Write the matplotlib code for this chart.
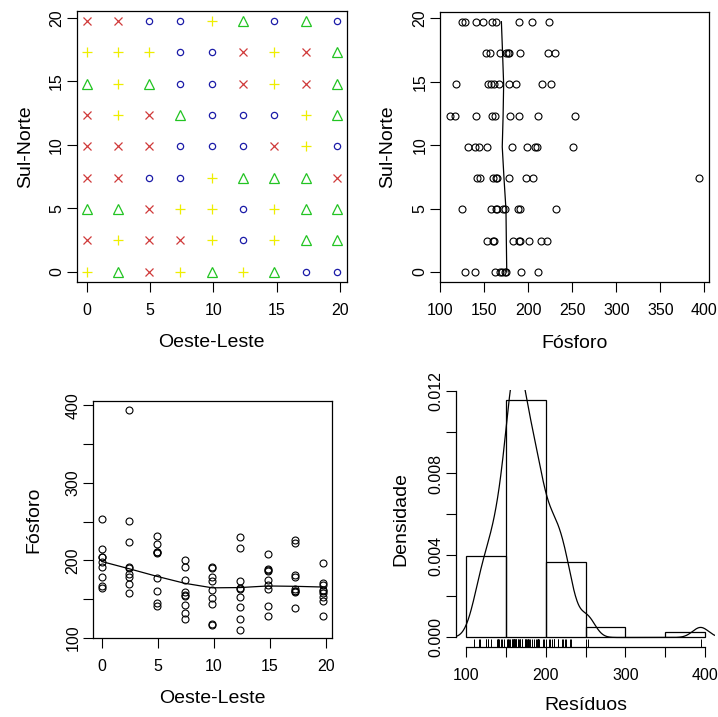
import matplotlib

matplotlib.use("Agg")
import numpy as np
from matplotlib import pyplot as plt

plt.rcParams["font.family"] = ["Liberation Sans", "DejaVu Sans"]

# coordenadas da grade (m), iguais nos dois sentidos
coords = [0.0, 2.47, 4.93, 7.4, 9.87, 12.34, 14.8, 17.27, 19.74]

# fosforo por linha, de sul (y=0) para norte; cada linha de oeste para leste
fosforo_linhas = [
    [192, 170, 211, 175, 162, 174, 168, 139, 128],
    [215, 183, 221, 201, 191, 153, 189, 161, 160],
    [165, 158, 232, 191, 174, 125, 188, 163, 171],
    [205, 394, 145, 142, 178, 165, 163, 160, 197],
    [198, 251, 210, 132, 144, 140, 208, 181, 153],
    [253, 190, 211, 159, 117, 111, 141, 179, 162],
    [167, 178, 161, 154, 118, 216, 186, 226, 158],
    [178, 191, 177, 156, 152, 230, 175, 222, 168],
    [204, 224, 141, 125, 190, 163, 128, 159, 148],
]

hist_breaks = [100, 150, 200, 250, 300, 350, 400]

qt_cols = ["#1c1ca8", "#22c422", "#eeee00", "#d03a3a"]
qt_marks = ["o", "^", "+", "x"]
qt_sizes = [4.5, 6.5, 7.5, 6.0]

TICK = 11.5
LAB = 14

xx, yy = np.meshgrid(coords, coords)
east = xx.ravel()
north = yy.ravel()
vals = np.array(fosforo_linhas, dtype=float).ravel()
n = len(vals)


def lowess(x, y, f=2 / 3, iters=3):
    # versao do clowess do R
    order = np.argsort(x, kind="stable")
    x = np.asarray(x, float)[order]
    y = np.asarray(y, float)[order]
    m = len(x)
    ns = max(2, min(m, int(f * m + 1e-7)))
    rw = np.ones(m)
    ys = np.zeros(m)
    rng = x[-1] - x[0]
    for it in range(iters + 1):
        for xs in np.unique(x):
            d = np.abs(x - xs)
            h = np.sort(d)[ns - 1]
            w = np.zeros(m)
            ins = d <= 0.999 * h
            w[ins] = np.where(d[ins] <= 0.001 * h, 1.0, (1 - (d[ins] / h) ** 3) ** 3)
            w *= rw
            if w.sum() <= 0:
                ys[x == xs] = y[x == xs]
                continue
            w /= w.sum()
            if h > 0:
                a = np.sum(w * x)
                c = np.sum(w * (x - a) ** 2)
                if np.sqrt(c) > 0.001 * rng:
                    b = (xs - a) / c
                    w = w * (b * (x - a) + 1)
            ys[x == xs] = np.sum(w * y)
        if it == iters:
            break
        res = np.abs(y - ys)
        cmad = 6 * np.median(res)
        rw = np.where(res <= 0.001 * cmad, 1.0,
                      np.where(res <= 0.999 * cmad, (1 - (res / cmad) ** 2) ** 2, 0.0))
    return x, ys


def rlim(v):
    lo, hi = np.min(v), np.max(v)
    e = 0.04 * (hi - lo)
    return lo - e, hi + e


def yrot(ax, ticks, labels):
    ax.set_yticks(ticks, labels, rotation=90, va="center")


W, H = 718, 717
fig = plt.figure(figsize=(7.18, 7.17), dpi=100)


def box(l, t, r, b):
    return [l / W, 1 - b / H, (r - l) / W, (b - t) / H]


ax1 = fig.add_axes(box(76.5, 11, 347, 281.7))
ax2 = fig.add_axes(box(440, 11.7, 709, 282))
ax3 = fig.add_axes(box(93, 401, 331.7, 638.3))
ax4 = fig.add_axes(box(456, 390, 715, 647))

for ax in (ax1, ax2, ax3, ax4):
    ax.tick_params(direction="out", length=7, width=0.8, labelsize=TICK, colors="black")
    ax.tick_params(axis="x", pad=8)
    ax.tick_params(axis="y", pad=2)
    for s in ax.spines.values():
        s.set_linewidth(0.9)

# quartis (como cut do R, fechado a direita)
q = np.percentile(vals, [25, 50, 75])
grupo = np.searchsorted(q, vals, side="left")

# 1: pontos por quartil
for g in range(4):
    sel = grupo == g
    ax1.plot(east[sel], north[sel], ls="none", marker=qt_marks[g], ms=qt_sizes[g],
             mfc="none", mec=qt_cols[g], mew=0.9)
ax1.set_xlim(rlim(east))
ax1.set_ylim(rlim(north))
ax1.set_xticks([0, 5, 10, 15, 20])
yrot(ax1, [0, 5, 10, 15, 20], ["0", "5", "10", "15", "20"])
ax1.set_xlabel("Oeste-Leste", fontsize=LAB, labelpad=12)
ax1.set_ylabel("Sul-Norte", fontsize=LAB, labelpad=11)

# 2: fosforo x Sul-Norte
ax2.plot(vals, north, ls="none", marker="o", ms=5, mfc="none", mec="black", mew=0.8)
lx, ly = lowess(north, vals)
ax2.plot(ly, lx, color="black", lw=0.9)
ax2.set_xlim(rlim(vals))
ax2.set_ylim(rlim(north))
ax2.set_xticks([100, 150, 200, 250, 300, 350, 400])
yrot(ax2, [0, 5, 10, 15, 20], ["0", "5", "10", "15", "20"])
ax2.set_xlabel("Fósforo", fontsize=LAB, labelpad=12)
ax2.set_ylabel("Sul-Norte", fontsize=LAB, labelpad=11.5)

# 3: Oeste-Leste x fosforo
ax3.plot(east, vals, ls="none", marker="o", ms=5, mfc="none", mec="black", mew=0.8)
lx, ly = lowess(east, vals)
ax3.plot(lx, ly, color="black", lw=0.9)
ax3.set_xlim(rlim(east))
ax3.set_ylim(rlim(vals))
ax3.set_xticks([0, 5, 10, 15, 20])
yrot(ax3, [100, 150, 200, 250, 300, 350, 400], ["100", "", "200", "", "300", "", "400"])
ax3.set_xlabel("Oeste-Leste", fontsize=LAB, labelpad=11.5)
ax3.set_ylabel("Fósforo", fontsize=LAB, labelpad=17)

# 4: histograma + densidade + rug
counts, _, _ = ax4.hist(vals, bins=hist_breaks, density=True, fill=False,
                        edgecolor="black", linewidth=0.9)
sd = np.std(vals, ddof=1)
iqr = np.subtract(*np.percentile(vals, [75, 25]))
bw = 0.9 * min(sd, iqr / 1.34) * n ** -0.2
gx = np.linspace(vals.min() - 3 * bw, vals.max() + 3 * bw, 512)
dens = np.exp(-0.5 * ((gx[:, None] - vals[None, :]) / bw) ** 2).sum(1) / (n * bw * np.sqrt(2 * np.pi))
ax4.plot(gx, dens, color="black", lw=0.9)
ax4.set_xlim(88, 412)
ymax = counts.max()
ax4.set_ylim(-0.04 * ymax, 1.04 * ymax)
ax4.vlines(vals, 0, 0.03, transform=ax4.get_xaxis_transform(), color="black", lw=0.7)
ax4.spines["top"].set_visible(False)
ax4.spines["right"].set_visible(False)
ax4.spines["left"].set_bounds(0, 0.012)
ax4.spines["bottom"].set_bounds(100, 400)
ax4.set_xticks(hist_breaks, ["100", "", "200", "", "300", "", "400"])
yt = [0, 0.002, 0.004, 0.006, 0.008, 0.010, 0.012]
yrot(ax4, yt, ["0.000", "", "0.004", "", "0.008", "", "0.012"])
ax4.set_xlabel("Resíduos", fontsize=LAB, labelpad=10)
ax4.set_ylabel("Densidade", fontsize=LAB, labelpad=14)

fig.savefig("out.png", dpi=100)
